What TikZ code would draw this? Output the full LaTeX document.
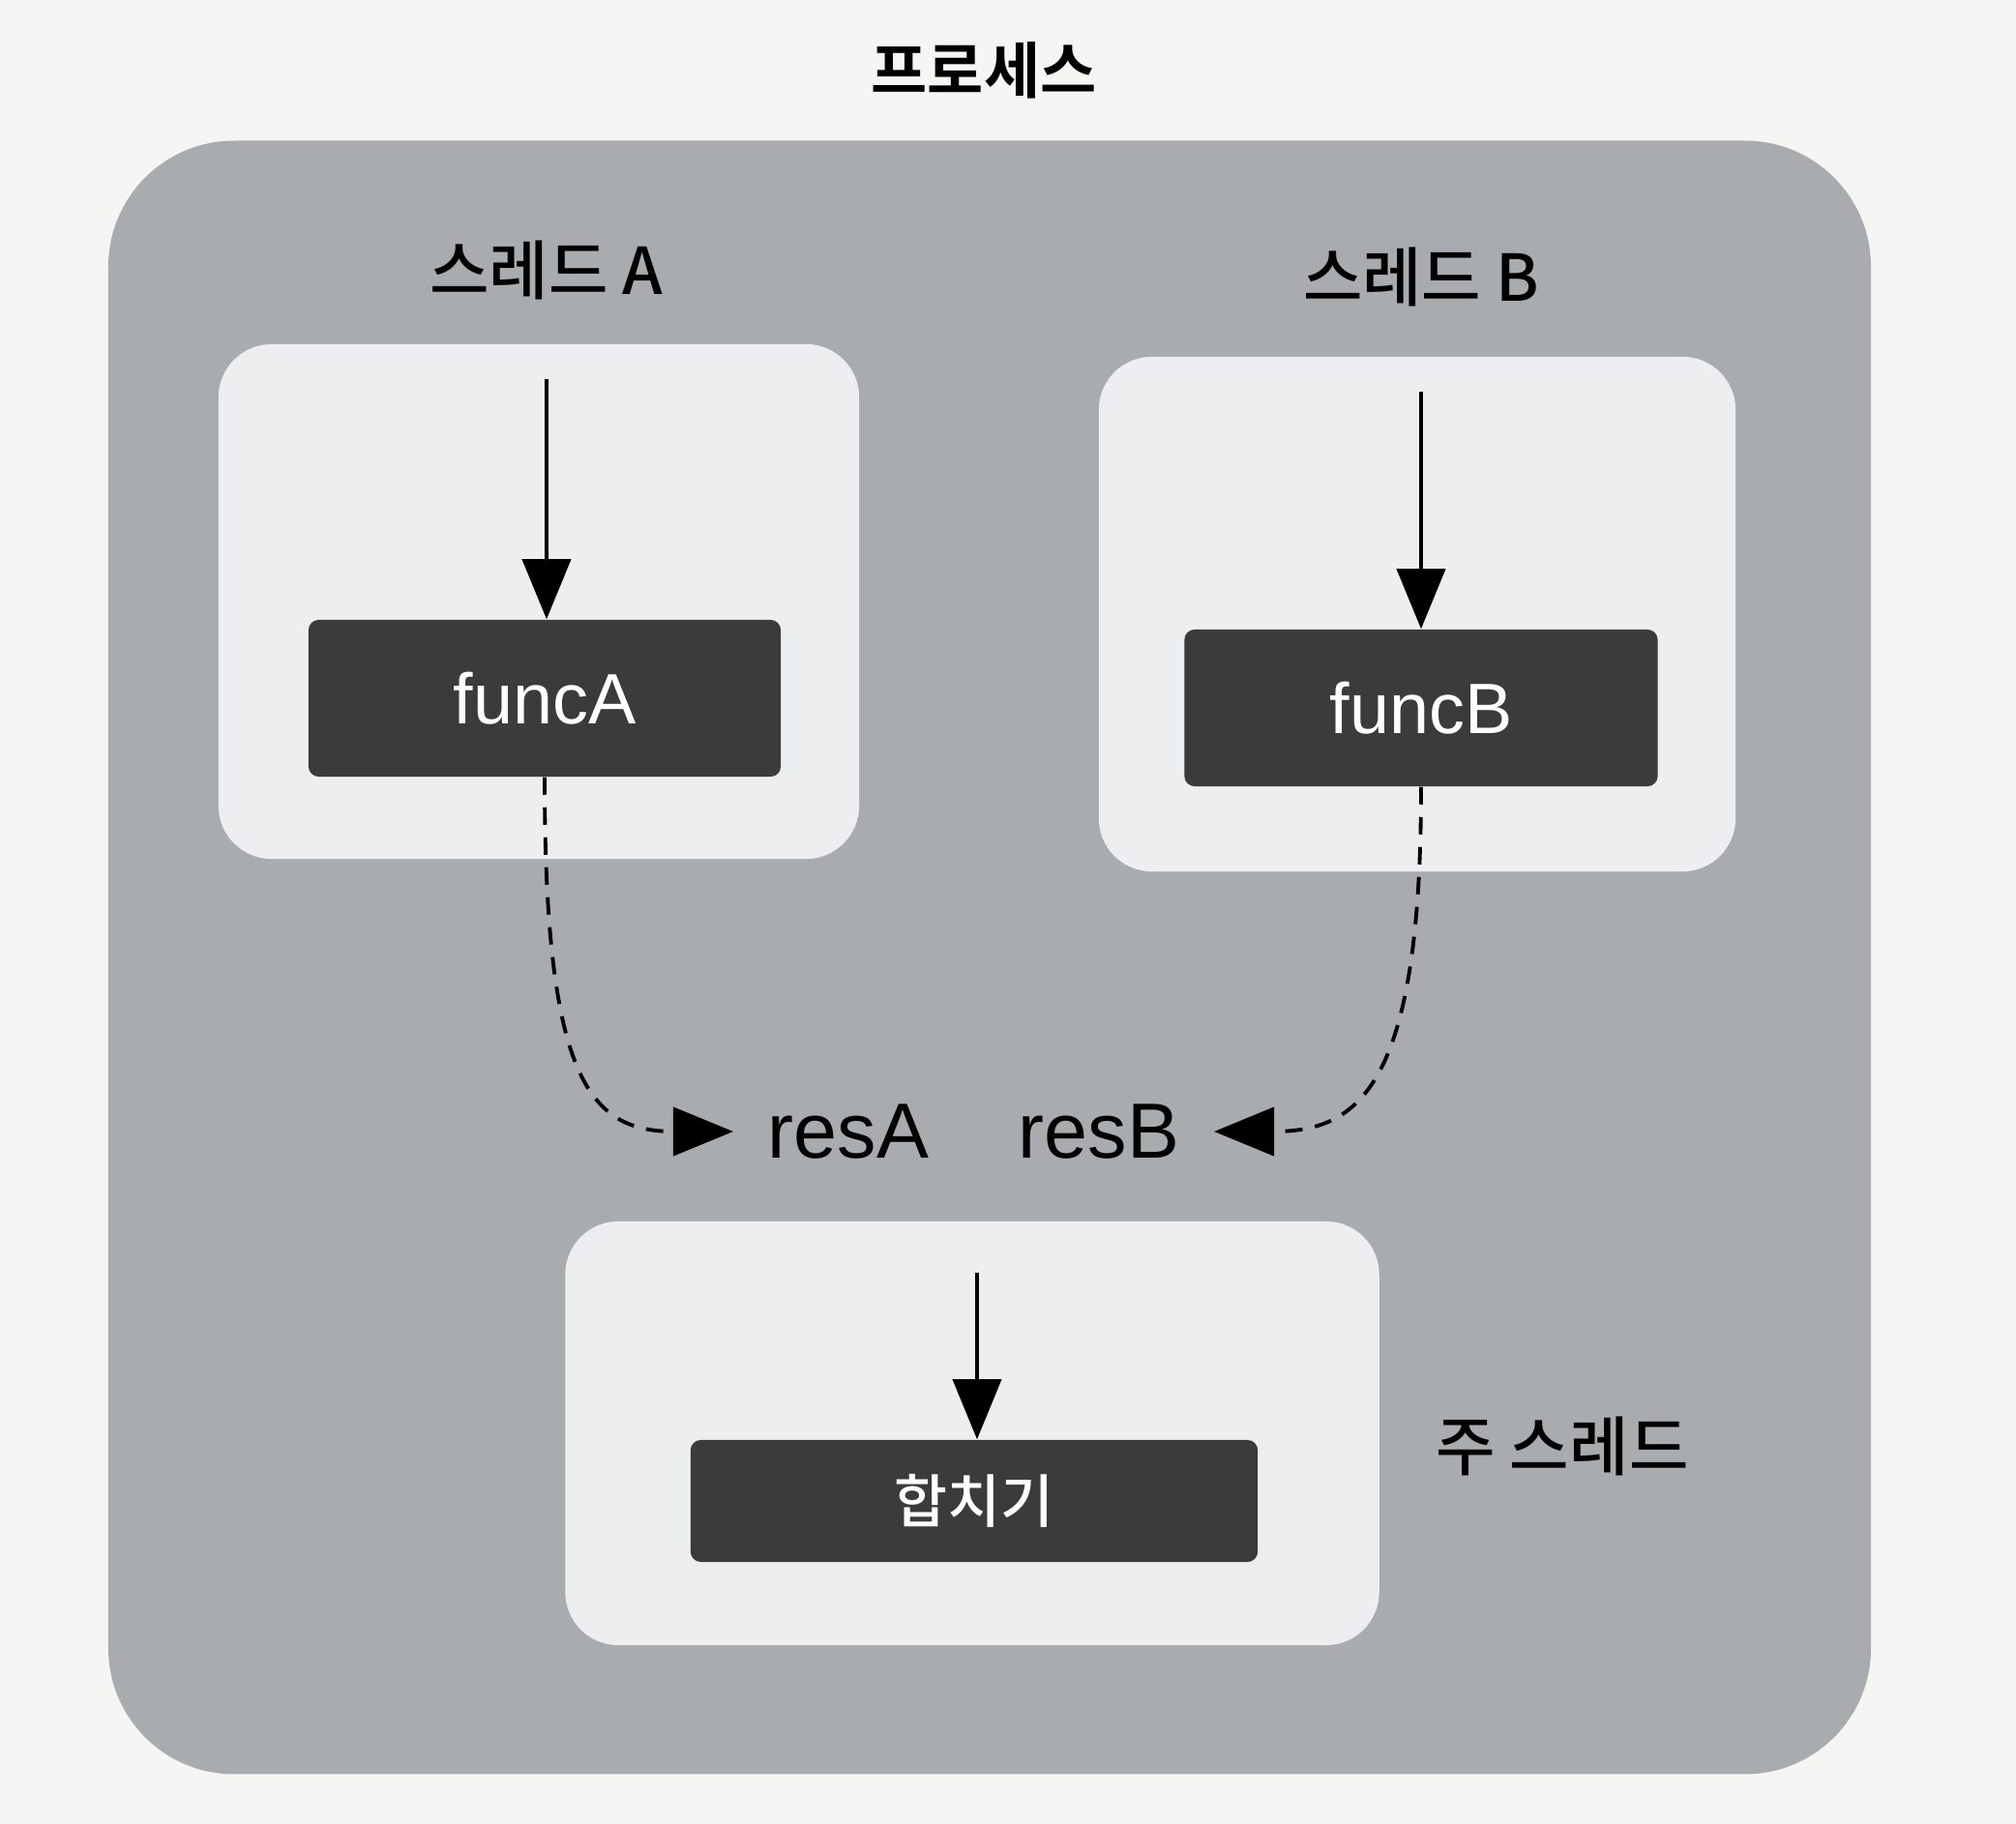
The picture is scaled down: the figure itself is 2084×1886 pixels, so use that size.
\documentclass[tikz,border=0pt]{standalone}
\usepackage{fontspec}
\setmainfont{Liberation Sans}
\newfontfamily\kr{Noto Sans CJK KR Medium}
\newfontfamily\krb{Noto Sans CJK KR Bold}
\usetikzlibrary{positioning,arrows.meta}

\definecolor{procgray}{HTML}{A9ACAF}
\definecolor{threadwhite}{HTML}{ECEEEF}
\definecolor{funcdark}{HTML}{3B3B3C}
\definecolor{paper}{HTML}{F5F5F4}

\begin{document}
\begin{tikzpicture}[
  x = 0.01cm, y = -0.01cm,
  every node/.style = {inner sep=0pt},
  proc/.style   = {fill=procgray, rounded corners=1.3cm},
  thread/.style = {fill=threadwhite, rounded corners=0.55cm},
  func/.style   = {fill=funcdark, text=white, rounded corners=3pt,
                   minimum height=1.62cm, font=\fontsize{21}{25}\selectfont},
  merge/.style  = {func, font=\kr\fontsize{17}{21}\selectfont},
  lbl/.style    = {font=\kr\fontsize{19}{23}\selectfont},
  res/.style    = {font=\fontsize{23}{27}\selectfont, inner sep=10pt},
  ar/.style     = {-{Triangle[length=0.62cm, width=0.5cm]}, line width=1.1pt},
  dar/.style    = {ar, dash pattern=on 0.18cm off 0.13cm}
]
\useasboundingbox (0,0) rectangle (2084,1886);
\fill[paper] (0,0) rectangle (2084,1886);

% title and process area
\node[font=\krb\fontsize{18}{22}\selectfont] (title) at (1017,73) {프로세스};
\node[proc, minimum width=18.21cm, minimum height=16.88cm] (proc) at (1023,990) {};

% thread boxes
\node[thread, minimum width=6.62cm, minimum height=5.32cm] (thA) at (557,622) {};
\node[thread, minimum width=6.58cm, minimum height=5.32cm] (thB) at (1465,635) {};
\node[thread, minimum width=8.41cm, minimum height=4.38cm] (thM) at (1005,1482) {};

\node[lbl] (labA) at (565,279)  {스레드 A};
\node[lbl] (labB) at (1469,286) {스레드 B};
\node[lbl] (labM) at (1615,1495) {주 스레드};

% functions
\node[func, minimum width=4.88cm] (funcA) at (563,722) {funcA};
\node[func, minimum width=4.89cm] (funcB) at (1469,732) {funcB};
\node[merge, minimum width=5.86cm, minimum height=1.26cm] (join) at (1007,1552) {합치기};

\coordinate (inA) at (565,392);
\coordinate (inB) at (1469,405);
\coordinate (inM) at (1010,1316);

\draw[ar] (inA) -- (inA |- funcA.north);
\draw[ar] (inB) -- (inB |- funcB.north);
\draw[ar] (inM) -- (inM |- join.north);

% results
\node[res] (resA) at (877,1170)  {resA};
\node[res] (resB) at (1136,1170) {resB};

\draw[dar] (funcA.south) .. controls +(0,310) and +(-150,0) .. (resA.west);
\draw[dar] (funcB.south) .. controls +(0,310) and +(150,0) .. (resB.east);

\end{tikzpicture}
\end{document}
